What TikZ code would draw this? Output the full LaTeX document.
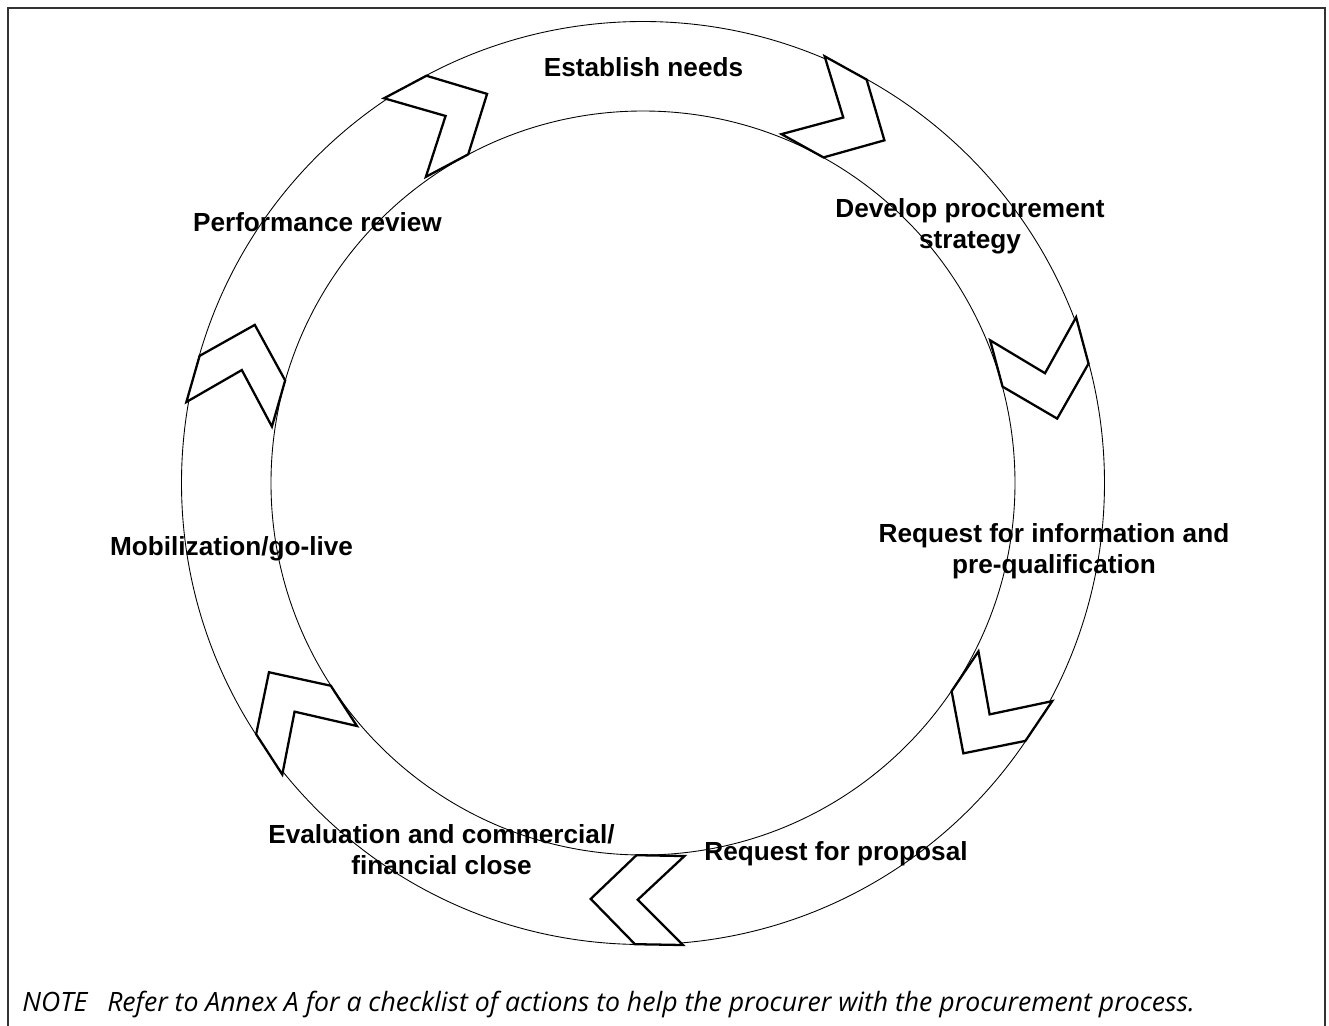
\documentclass[tikz,border=0pt]{standalone}
\usepackage{fontspec}
\setmainfont{Liberation Sans}
\newfontfamily\notefont{Open Sans}
\usetikzlibrary{positioning}

\begin{document}
\begin{tikzpicture}[
    x=0.02cm, y=0.02cm,
    ring/.style={line width=0.5pt},
    chev/.style={draw, fill=white, line width=1.3pt, line join=miter},
    lbl/.style={font=\fontsize{14.9}{17.6}\selectfont\bfseries, align=center, inner sep=0pt},
    note/.style={font=\notefont\itshape\fontsize{15.15}{18}\selectfont, anchor=west, inner sep=0pt},
    chevron/.pic={\draw[chev] (-44.5,0) -- (-44.5,48) -- (0,2) -- (44.5,48) -- (44.5,0) -- (0,-45) -- cycle;}
]
\useasboundingbox (-643,483) rectangle (686,-542);
% frame, open at the bottom
\draw[line width=1.1pt, black!80] (-635,-550) -- (-635,475) -- (682,475) -- (682,-550);

% the cycle
\draw[ring] (0,0) circle[radius=461.5];
\draw[ring] (0,0) circle[radius=372];

\pic[rotate=61]  at (61:416.75)  {chevron};
\pic[rotate=15]  at (15:416.75)  {chevron};
\pic[rotate=-34] at (-34:416.75) {chevron};
\pic[rotate=269] at (269:416.75) {chevron};
\pic[rotate=213] at (213:416.75) {chevron};
\pic[rotate=164] at (164:416.75) {chevron};
\pic[rotate=118] at (118:416.75) {chevron};

% steps
\node[lbl] (needs)    at (0.5,415.5)  {Establish needs};
\node[lbl] (strategy) at (327,257)    {Develop procurement\\strategy};
\node[lbl] (rfi)      at (411,-68.5)  {Request for information and\\pre-qualification};
\node[lbl] (rfp)      at (193,-371)   {Request for proposal};
\node[lbl] (close)    at (-201.5,-367) {Evaluation and commercial/\\financial close};
\node[lbl] (golive)   at (-411.5,-66) {Mobilization/go-live};
\node[lbl] (review)   at (-325.5,260.5) {Performance review};

\node[note] (note) at (-621,-522) {NOTE\hspace{0.75em}Refer to Annex A for a checklist of actions to help the procurer with the procurement process.};
\end{tikzpicture}
\end{document}
